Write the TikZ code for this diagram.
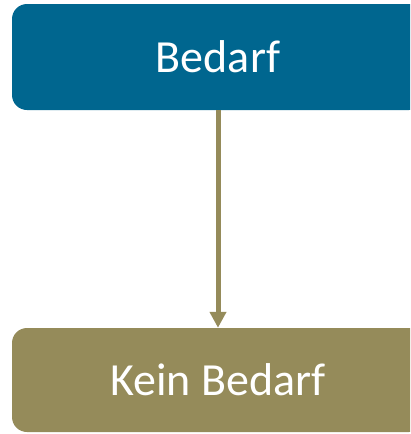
\documentclass[tikz,border=0pt]{standalone}
\usepackage{fontspec}
\setmainfont{Carlito}
\usetikzlibrary{arrows.meta}
\definecolor{topblue}{HTML}{00668F}
\definecolor{olive}{HTML}{958B5A}
\tikzset{
  box/.style={rectangle, rounded corners=15pt, minimum width=412pt, text=white,
    font=\fontsize{46}{52}\selectfont, inner sep=0pt},
  conn/.style={draw=olive, line width=5pt, -{Triangle[width=16pt,length=16pt]}, color=olive}
}
\begin{document}
\begin{tikzpicture}[x=1pt,y=1pt]
\useasboundingbox (0,0) rectangle (410,-434);
\clip (0,0) rectangle (410,-434);
\node[box, fill=topblue, minimum height=106pt] (bedarf) at (218,-57) {Bedarf};
\node[box, fill=olive, minimum height=104pt] (kein) at (218,-380) {Kein Bedarf};
\draw[conn] (bedarf.south) -- (kein.north);
\end{tikzpicture}
\end{document}
